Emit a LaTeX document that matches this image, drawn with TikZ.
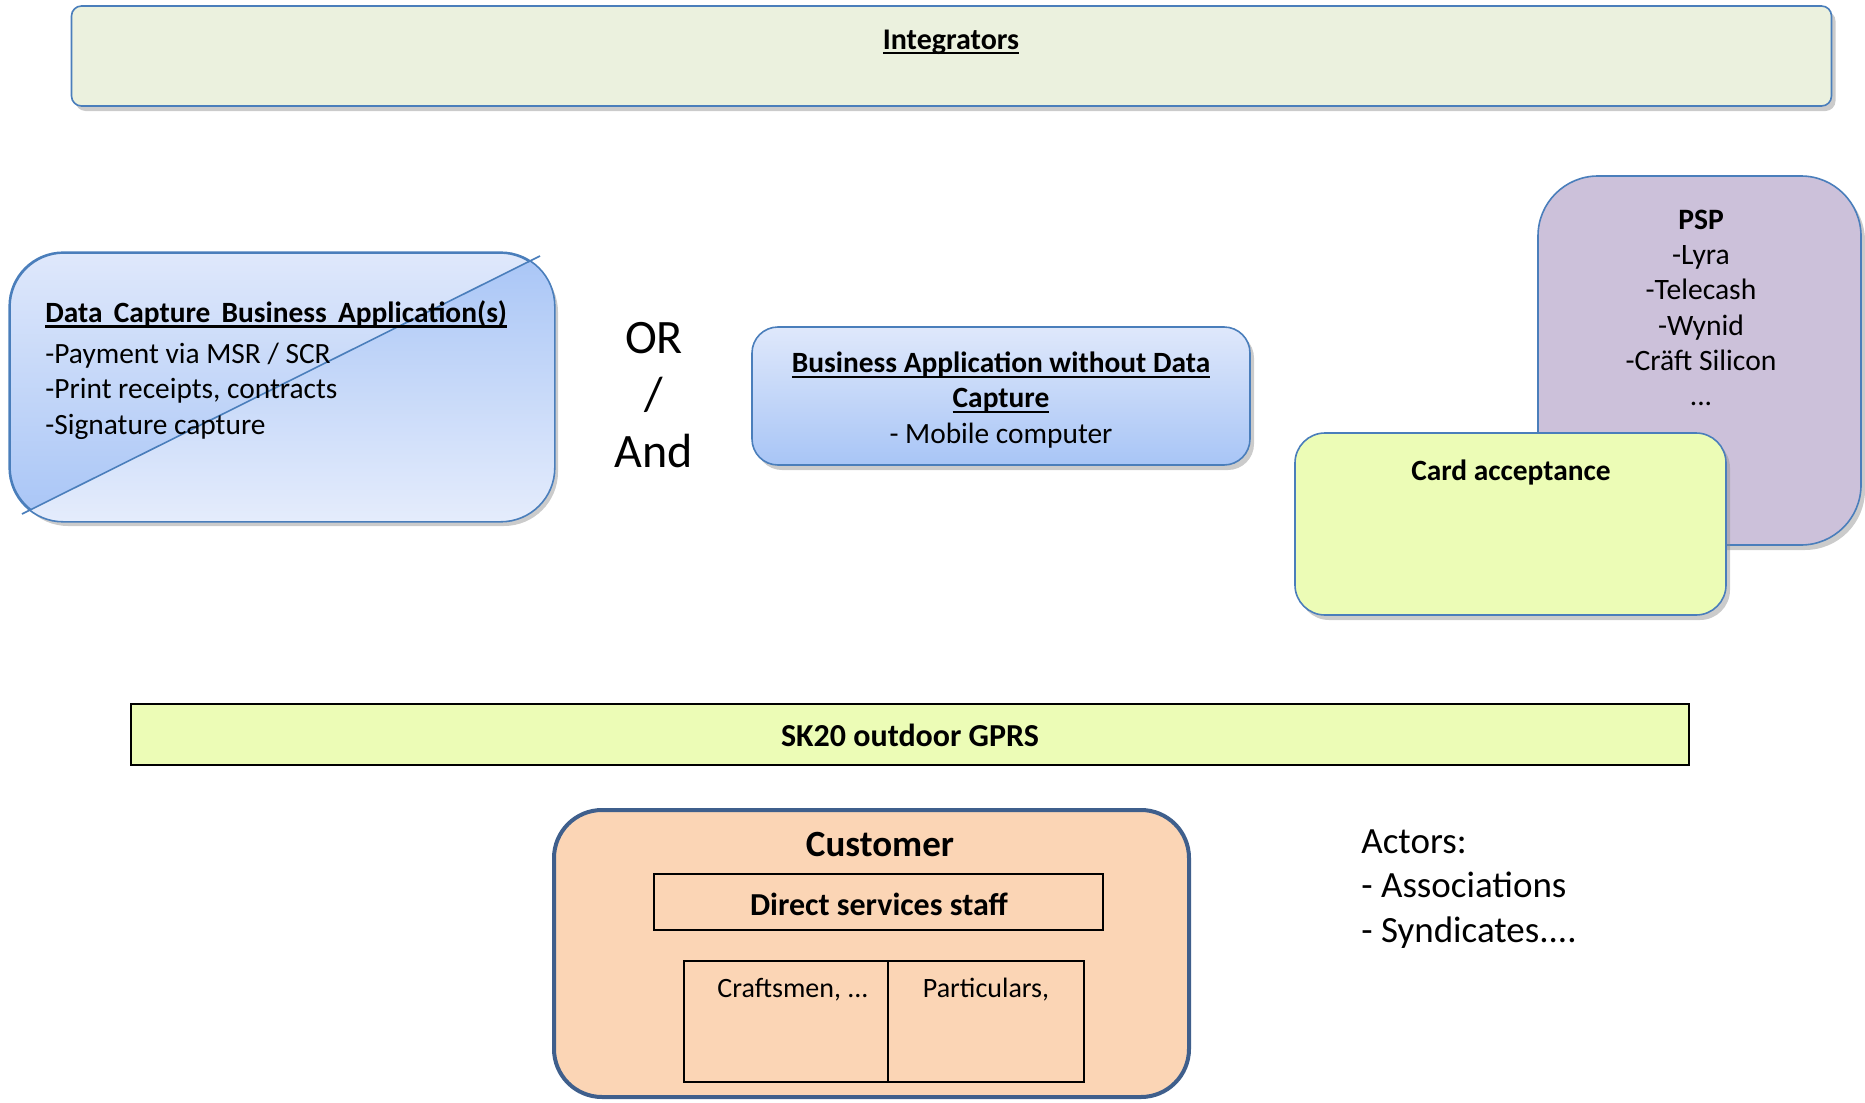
\documentclass[tikz,border=0pt]{standalone}
\usepackage{fontspec}
\setmainfont{Carlito}
\usetikzlibrary{shadows}
\definecolor{boxblue}{HTML}{4A7EBB}
\definecolor{intgreen}{HTML}{EBF1DE}
\definecolor{apptop}{HTML}{DFE8FB}
\definecolor{appbottom}{HTML}{A8C5F6}
\definecolor{pspviolet}{HTML}{CCC1DA}
\definecolor{cardgreen}{HTML}{ECFCB6}
\definecolor{custpeach}{HTML}{FBD5B5}
\definecolor{custblue}{HTML}{3F5F8C}
\newcommand{\undl}[1]{\setbox0\hbox{#1}\rlap{\vrule height -1.4pt depth 2.6pt width \wd0}\box0}
\tikzset{
    box/.style={draw=boxblue, line width=0.8pt},
    shadowed/.style={drop shadow={shadow xshift=2pt, shadow yshift=-2.5pt, fill=black!45, opacity=0.45}},
    blackbox/.style={draw=black, line width=1pt, fill=cardgreen},
    plain/.style={inner sep=0pt, font=\fontsize{14.7}{17.6}\selectfont},
}

\begin{document}
\begin{tikzpicture}[x=0.5pt, y=-0.5pt]
\useasboundingbox (0,0) rectangle (1865,1103);
% top band
\node[box, shadowed, fill=intgreen, rounded corners=5pt, minimum width=880pt, minimum height=50pt] (integ) at (951.5,56) {};
\node[plain, font=\fontsize{15}{18}\bfseries] (integtext) at (951,42) {\undl{Integrators}};

% data capture application (folded page)
\node[box, shadowed, top color=apptop, bottom color=appbottom, rounded corners=27pt, minimum width=272pt, minimum height=134pt] (dcba) at (282,387) {};
\begin{scope}
\clip[rounded corners=27pt] (dcba.north west) rectangle (dcba.south east);
\shade[top color=appbottom, bottom color=apptop!80!white] (22,514) -- (540,256) -- (560,250) -- (560,525) -- (18,525) -- cycle;
\end{scope}
\draw[box, rounded corners=27pt] (dcba.north west) rectangle (dcba.south east);
\coordinate (foldA) at (22,514);
\coordinate (foldB) at (540,256);
\draw[box] (foldA) -- (foldB);
\node[plain, anchor=west, align=left] (dcbatext) at (45,370) {\textbf{\undl{Data\hskip0.38em Capture\hskip0.38em Business\hskip0.38em Application(s)}}\\[3pt]-Payment via MSR / SCR\\-Print receipts, contracts\\-Signature capture};

\node[inner sep=0pt, align=center, font=\fontsize{24}{28.5}\selectfont] (orand) at (654,395) {OR\\/\\And};

% application without data capture
\node[box, shadowed, top color=apptop, bottom color=appbottom, rounded corners=13pt, minimum width=249pt, minimum height=69pt] (bawdc) at (1001,396) {};
\node[plain, align=center] (bawdctext) at (1001,400) {\textbf{\undl{Business Application without Data}}\\\textbf{\undl{Capture}}\\- Mobile computer};

% PSP and card acceptance
\node[box, shadowed, fill=pspviolet, rounded corners=30pt, minimum width=161.5pt, minimum height=184.5pt] (psp) at (1699.5,360.5) {};
\node[plain, align=center, font=\fontsize{14.8}{17.6}\selectfont] (psptext) at (1701,308) {\textbf{PSP}\\-Lyra\\-Telecash\\-Wynid\\-Cräft Silicon\\...};
\node[box, shadowed, fill=cardgreen, rounded corners=15pt, minimum width=215.5pt, minimum height=91pt] (card) at (1510.5,524) {};
\node[plain, font=\fontsize{14.7}{17.6}\bfseries] (cardtext) at (1511,472) {Card acceptance};

% terminal
\node[blackbox, line width=1.2pt, minimum width=779pt, minimum height=30.5pt] (sk) at (910,734.5) {};
\node[plain, font=\fontsize{16}{19}\bfseries] (sktext) at (910,735) {SK20 outdoor GPRS};

% customer
\node[draw=custblue, line width=2pt, fill=custpeach, rounded corners=24pt, minimum width=317.5pt, minimum height=143.5pt] (cust) at (871.5,953.5) {};
\node[inner sep=0pt, font=\fontsize{18.5}{22}\bfseries] (custtext) at (880,844) {Customer};
\node[draw, line width=1pt, minimum width=224.5pt, minimum height=28pt] (staff) at (878.5,902) {};
\node[inner sep=0pt, font=\fontsize{16}{19}\bfseries] (stafftext) at (879,904) {Direct services staff};
\node[draw, line width=1pt, minimum width=102pt, minimum height=60.5pt] (craft) at (786,1021.5) {};
\node[draw, line width=1pt, minimum width=98pt, minimum height=60.5pt] (partic) at (986,1021.5) {};
\node[inner sep=0pt, font=\fontsize{14}{17}\selectfont] (crafttext) at (793,990) {Craftsmen, ...};
\node[inner sep=0pt, font=\fontsize{14}{17}\selectfont] (partictext) at (986,990) {Particulars,};

\node[inner sep=0pt, anchor=west, align=left, font=\fontsize{18.5}{22.25}\selectfont] (actors) at (1361,889) {Actors:\\- Associations\\- Syndicates....};
\end{tikzpicture}
\end{document}
